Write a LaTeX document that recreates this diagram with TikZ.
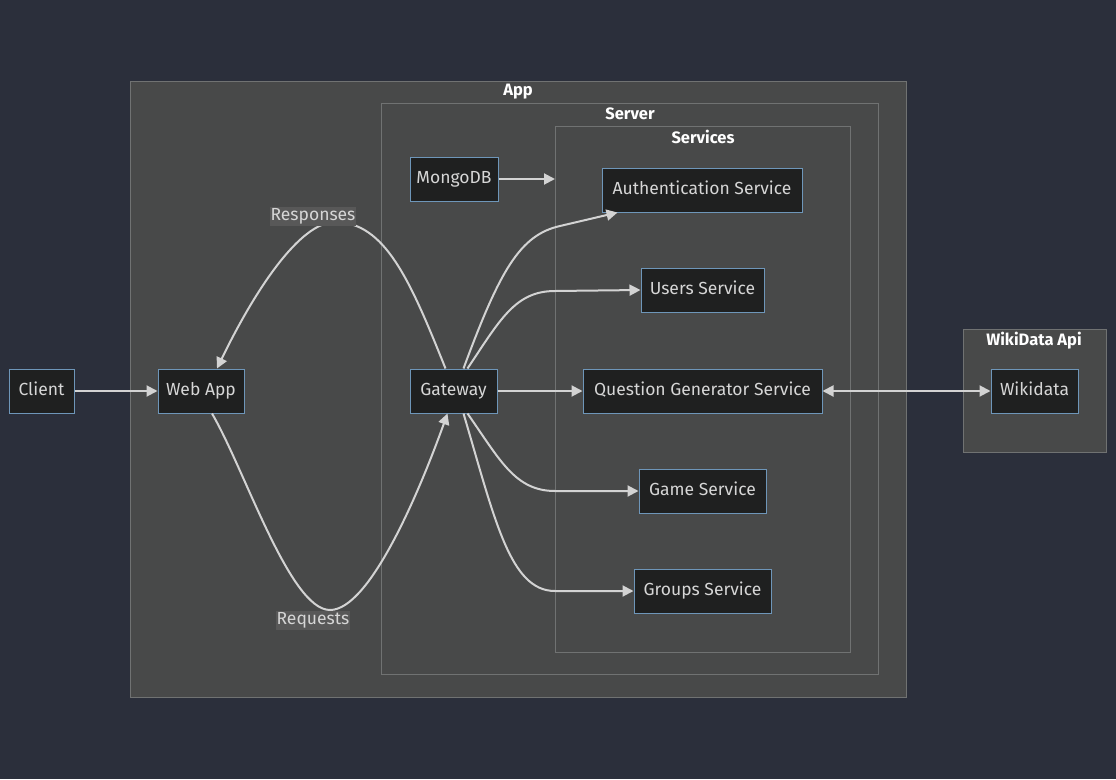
\documentclass[tikz,border=0pt]{standalone}
\usepackage{fontspec}
\setmainfont{Fira Sans}
\usetikzlibrary{arrows.meta, positioning}

\definecolor{pagebg}{RGB}{43,47,59}
\definecolor{grpfill}{RGB}{72,73,73}
\definecolor{grpline}{RGB}{112,114,114}
\definecolor{boxfill}{RGB}{31,32,32}
\definecolor{boxline}{RGB}{110,150,185}
\definecolor{txt}{RGB}{214,214,214}
\definecolor{wire}{RGB}{211,211,211}
\definecolor{lblbg}{RGB}{88,88,88}

\begin{document}
\begin{tikzpicture}[x=1pt, y=-1pt, font=\fontsize{17.5}{21}\selectfont,
  grp/.style={draw=grpline, fill=grpfill, line width=1pt},
  grptitle/.style={text=white, inner sep=0pt, font=\fontsize{16.5}{20}\selectfont\bfseries},
  box/.style={draw=boxline, fill=boxfill, text=txt, line width=1pt,
    minimum height=44pt, inner sep=0pt, text height=13pt, text depth=4pt},
  flow/.style={draw=wire, line width=2pt, -{Triangle[length=11pt,width=11pt]}},
  lbl/.style={fill=lblbg, text=txt, inner sep=1pt, text height=13pt, text depth=4pt}]

  % Background
  \fill[pagebg] (0,0) rectangle (1116,779);
  \useasboundingbox (0,0) rectangle (1116,779);

  % Clusters
  \draw[grp] (130,81) rectangle (906,697);
  \node[grptitle] (apptitle) at (518,92) {App};
  \draw[grp] (381,103) rectangle (878,674);
  \node[grptitle] (servertitle) at (630,114) {Server};
  \draw[grp] (555,126) rectangle (850,652);
  \node[grptitle] (servicestitle) at (703,137) {Services};
  \draw[grp] (963,329) rectangle (1106,452);
  \node[grptitle] (wikititle) at (1034,341) {WikiData Api};

  % Nodes
  \node[box, minimum width=65pt] (client) at (41.5,391) {Client};
  \node[box, minimum width=86pt] (webapp) at (201,391) {Web App};
  \node[box, minimum width=87pt] (gateway) at (453.5,391) {Gateway};
  \node[box, minimum width=88pt] (mongodb) at (454,179) {MongoDB};
  \node[box, minimum width=200pt] (auth) at (702,190) {Authentication Service};
  \node[box, minimum width=123pt] (users) at (702.5,290) {Users Service};
  \node[box, minimum width=239pt] (questions) at (702.5,391) {Question Generator Service};
  \node[box, minimum width=127pt] (game) at (702.5,491) {Game Service};
  \node[box, minimum width=137pt] (groups) at (702.5,591) {Groups Service};
  \node[box, minimum width=87pt] (wikidata) at (1034.5,391) {Wikidata};
  \coordinate (svcedge) at (555,179);

  % Edges
  \draw[flow] (client) -- (webapp);
  \draw[flow] (mongodb) -- (svcedge);
  \draw[flow] ([xshift=-8pt]gateway.north) .. controls (410,280) and (385,222) .. (335,222)
    .. controls (300,222) and (255,290) .. ([xshift=16pt]webapp.north);
  \draw[flow] ([xshift=11pt]webapp.south) .. controls (245,470) and (290,610) .. (330,610)
    .. controls (370,610) and (420,490) .. ([xshift=-6pt]gateway.south);
  \draw[flow] ([xshift=10pt]gateway.north) .. controls (500,270) and (520,235) .. (560,226)
    -- ([xshift=16pt]auth.south west);
  \draw[flow] ([xshift=14pt]gateway.north) .. controls (500,320) and (515,291) .. (555,291)
    -- (users.west);
  \draw[flow] (gateway) -- (questions);
  \draw[flow] ([xshift=14pt]gateway.south) .. controls (500,460) and (515,491) .. (555,491)
    -- (game.west);
  \draw[flow] ([xshift=10pt]gateway.south) .. controls (495,520) and (510,591) .. (555,591)
    -- (groups.west);
  \draw[flow, {Triangle[length=11pt,width=11pt]}-{Triangle[length=11pt,width=11pt]}]
    (questions) -- (wikidata);

  % Edge labels
  \node[lbl] (responses) at (313,216) {Responses};
  \node[lbl] (requests) at (313,620) {Requests};
\end{tikzpicture}
\end{document}
